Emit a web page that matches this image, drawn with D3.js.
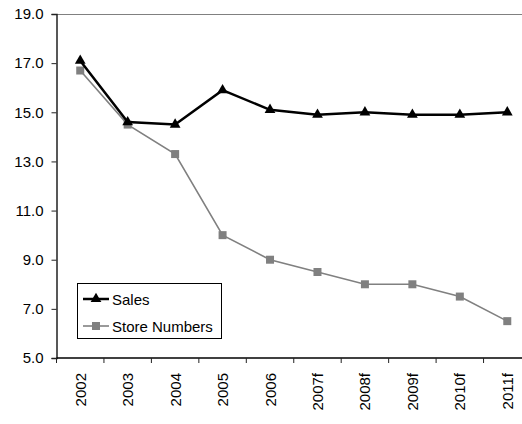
<!DOCTYPE html>
<html>
<head>
<meta charset="utf-8">
<script src="https://cdn.jsdelivr.net/npm/d3@7"></script>
<style>
  html, body { margin: 0; padding: 0; background: #fff; }
  svg { display: block; font-family: "Liberation Sans", Arial, sans-serif; }
</style>
</head>
<body>
<svg id="chart" width="522" height="424"></svg>
<script>
// Sales and store numbers, 2002 to 2011 (f = forecast)
const years = ["2002", "2003", "2004", "2005", "2006", "2007f", "2008f", "2009f", "2010f", "2011f"];
const sales = [17.1, 14.6, 14.5, 15.9, 15.1, 14.9, 15.0, 14.9, 14.9, 15.0];
const storeNumbers = [16.7, 14.5, 13.3, 10.0, 9.0, 8.5, 8.0, 8.0, 7.5, 6.5];
const yTicks = [5, 7, 9, 11, 13, 15, 17, 19];

(function () {
const svg = d3.select("#chart");
const plotLeft = 56.5, plotTop = 14, plotBottom = 358, plotRight = 531;
const fontSize = 15;

const x = d3.scaleBand().domain(years).range([plotLeft, plotRight]).padding(0);
const y = d3.scaleLinear().domain([5, 19]).range([plotBottom, plotTop]);

// top border of the plot area
svg.append("line")
  .attr("x1", plotLeft).attr("x2", plotRight)
  .attr("y1", plotTop + 0.5).attr("y2", plotTop + 0.5)
  .attr("stroke", "#808080").attr("stroke-width", 1);

// y axis
const yAxis = d3.axisLeft(y).tickValues(yTicks).tickFormat(d3.format(".1f")).tickSize(5).tickPadding(8);
const gy = svg.append("g").attr("transform", `translate(${plotLeft},0)`).call(yAxis);
gy.select(".domain").attr("stroke", "#222").attr("stroke-width", 1.5);
gy.selectAll(".tick line").attr("stroke", "#222");
gy.selectAll("text").attr("font-size", fontSize).attr("fill", "#000")
  .attr("font-family", "'Liberation Sans', Arial, sans-serif");

// x axis: ticks on category boundaries
const gx = svg.append("g").attr("transform", `translate(0,${plotBottom})`);
gx.append("line").attr("x1", plotLeft).attr("x2", plotRight).attr("y1", 0).attr("y2", 0)
  .attr("stroke", "#000").attr("stroke-width", 1.5);
gx.selectAll("line.tk").data(years).enter().append("line").attr("class", "tk")
  .attr("x1", d => x(d)).attr("x2", d => x(d))
  .attr("y1", 0).attr("y2", 5).attr("stroke", "#222").attr("stroke-width", 1);
gx.selectAll("text").data(years).enter().append("text")
  .attr("transform", d => `translate(${x(d) + x.bandwidth() / 2 + 5.5},15) rotate(-90)`)
  .attr("text-anchor", "end")
  .attr("font-size", fontSize).attr("fill", "#000")
  .text(d => d);

const cx = d => x(d) + x.bandwidth() / 2;
const line = d3.line().x((d, i) => cx(years[i])).y(d => y(d));

// Store numbers series
svg.append("path").datum(storeNumbers)
  .attr("d", line).attr("fill", "none")
  .attr("stroke", "#808080").attr("stroke-width", 1.6);
svg.selectAll("rect.store").data(storeNumbers).enter().append("rect").attr("class", "store")
  .attr("x", (d, i) => cx(years[i]) - 4).attr("y", d => y(d) - 4)
  .attr("width", 8).attr("height", 8).attr("fill", "#808080");

// Sales series
const tri = d3.symbol().type(d3.symbolTriangle).size(50);
svg.append("path").datum(sales)
  .attr("d", line).attr("fill", "none")
  .attr("stroke", "#000").attr("stroke-width", 2.5);
svg.selectAll("path.sales").data(sales).enter().append("path").attr("class", "sales")
  .attr("d", tri)
  .attr("transform", (d, i) => `translate(${cx(years[i])},${y(d)})`)
  .attr("fill", "#000");

// legend
const lg = svg.append("g");
lg.append("rect").attr("x", 77.5).attr("y", 283.5).attr("width", 144).attr("height", 55)
  .attr("fill", "#fff").attr("stroke", "#000").attr("stroke-width", 1);
const items = [
  { name: "Sales", color: "#000", w: 2.5, sym: "tri" },
  { name: "Store Numbers", color: "#808080", w: 1.6, sym: "sq" }
];
items.forEach((it, i) => {
  const yy = 299 + i * 27;
  lg.append("line").attr("x1", 83).attr("x2", 109).attr("y1", yy).attr("y2", yy)
    .attr("stroke", it.color).attr("stroke-width", it.w);
  if (it.sym === "tri") {
    lg.append("path").attr("d", tri).attr("transform", `translate(96,${yy})`).attr("fill", it.color);
  } else {
    lg.append("rect").attr("x", 92).attr("y", yy - 4).attr("width", 8).attr("height", 8).attr("fill", it.color);
  }
  lg.append("text").attr("x", 112).attr("y", yy + 5.5).attr("font-size", fontSize).attr("fill", "#000").text(it.name);
});
})();
</script>
</body>
</html>
